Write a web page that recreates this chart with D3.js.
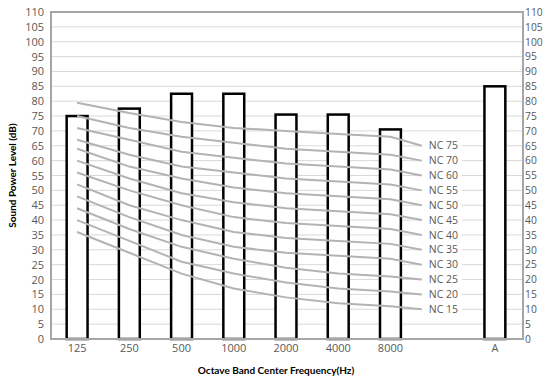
<!DOCTYPE html>
<html><head><meta charset="utf-8">
<script src="https://cdn.jsdelivr.net/npm/d3@7"></script>
<style>body{margin:0;background:#fff}svg{display:block;font-family:"Open Sans",sans-serif}</style>
</head><body><svg id="c" width="543" height="380"></svg>
<script>
const categories = ["125","250","500","1000","2000","4000","8000","","A"];
const barValues = [75, 77.5, 82.5, 82.5, 75.5, 75.5, 70.5, null, 85];
const yTicks = d3.range(0, 111, 5);
const ncLabels = ["NC 75","NC 70","NC 60","NC 55","NC 50","NC 45","NC 40","NC 35","NC 30","NC 25","NC 20","NC 15"];
// values at 125,250,500,1000,2000,4000,8000 and the label point
const ncValues = [
  [79.5,76,73,71,70,69,68,65],
  [75,71,68,66,64,63,62,60],
  [71,67,63,61,59,58,57,55],
  [67,62,58,56,54,53,52,50],
  [64,58,54,51,49,48,47,45],
  [60,54,49,46,44,43,42,40],
  [56,50,45,41,39,38,37,35],
  [52,45,40,36,34,33,32,30],
  [48,41,35,31,29,28,27,25],
  [44,37,31,27,24,22,21,20],
  [40,33,26,22,19,17,16,15],
  [36,29,22,17,14,12,11,10]
];
const ncPositions = [0,1,2,3,4,5,6,6.6];

const svg = d3.select("#c");
const L = 51, R = 523, T = 12, B = 339;
const x = d3.scaleBand().domain(categories).range([L, 521]).paddingInner(0.6).paddingOuter(0.3);
const y = d3.scaleLinear().domain([0, 110]).range([B, T]);
const bw = x.bandwidth();
const xi = d3.scaleLinear().domain([0, 8]).range([x(categories[0]) + bw/2, x(categories[8]) + bw/2]);

// gridlines
svg.append("g").selectAll("line").data(yTicks.filter(d => d > 0 && d < 110)).join("line")
  .attr("x1", L).attr("x2", R).attr("y1", d => y(d)).attr("y2", d => y(d))
  .attr("stroke", "#d9d9d9").attr("stroke-width", 1);

// bars
svg.append("g").selectAll("rect").data(categories.map((c, i) => ({c, v: barValues[i]})).filter(d => d.v != null)).join("rect")
  .attr("x", d => x(d.c)).attr("width", bw)
  .attr("y", d => y(d.v)).attr("height", d => B - y(d.v))
  .attr("fill", "#fff").attr("stroke", "#000").attr("stroke-width", 2.5);

// NC label backgrounds
const endX = xi(ncPositions[ncPositions.length - 1]);
svg.append("g").selectAll("rect").data(ncValues).join("rect")
  .attr("x", endX).attr("width", 462 - endX)
  .attr("y", d => y(d[d.length-1]) - 7).attr("height", 14).attr("fill", "#fff");

// NC lines
const line = d3.line().x((d, i) => xi(ncPositions[i])).y(d => y(d));
svg.append("g").selectAll("path").data(ncValues).join("path")
  .attr("d", line).attr("fill", "none").attr("stroke", "#b3b3b3").attr("stroke-width", 2);

// NC labels
svg.append("g").selectAll("text").data(ncValues).join("text")
  .attr("x", endX + 7).attr("y", d => y(d[d.length-1])).attr("dy", "0.35em")
  .attr("font-size", 10.5).attr("fill", "#595959")
  .text((d, i) => ncLabels[i]);

// frame
svg.append("rect").attr("x", L).attr("y", T).attr("width", R - L).attr("height", B - T)
  .attr("fill", "none").attr("stroke", "#a6a6a6").attr("stroke-width", 2);

// axes
const yl = svg.append("g").attr("transform", `translate(${L},0)`)
  .call(d3.axisLeft(y).tickValues(yTicks).tickSize(0).tickPadding(7));
const yr = svg.append("g").attr("transform", `translate(${R},0)`)
  .call(d3.axisRight(y).tickValues(yTicks).tickSize(0).tickPadding(2));
const xa = svg.append("g").attr("transform", `translate(0,${B})`)
  .call(d3.axisBottom(x).tickSize(0).tickPadding(5));
[yl, yr, xa].forEach(g => {
  g.select(".domain").remove();
  g.selectAll("text").attr("font-size", 11).style("fill", "#595959").attr("font-family", '"Open Sans",sans-serif');
});
yr.selectAll("text").attr("font-size", 10.3);

svg.append("text").attr("x", 276).attr("y", 374)
  .attr("text-anchor", "middle").attr("font-size", 10).attr("font-weight", "bold")
  .attr("font-family", "Lato,sans-serif")
  .text("Octave Band Center Frequency(Hz)");
svg.append("text").attr("transform", `translate(16,${(T + B) / 2}) rotate(-90)`)
  .attr("text-anchor", "middle").attr("font-size", 10).attr("font-weight", "bold")
  .attr("font-family", "Lato,sans-serif")
  .text("Sound Power Level (dB)");
</script></body></html>
